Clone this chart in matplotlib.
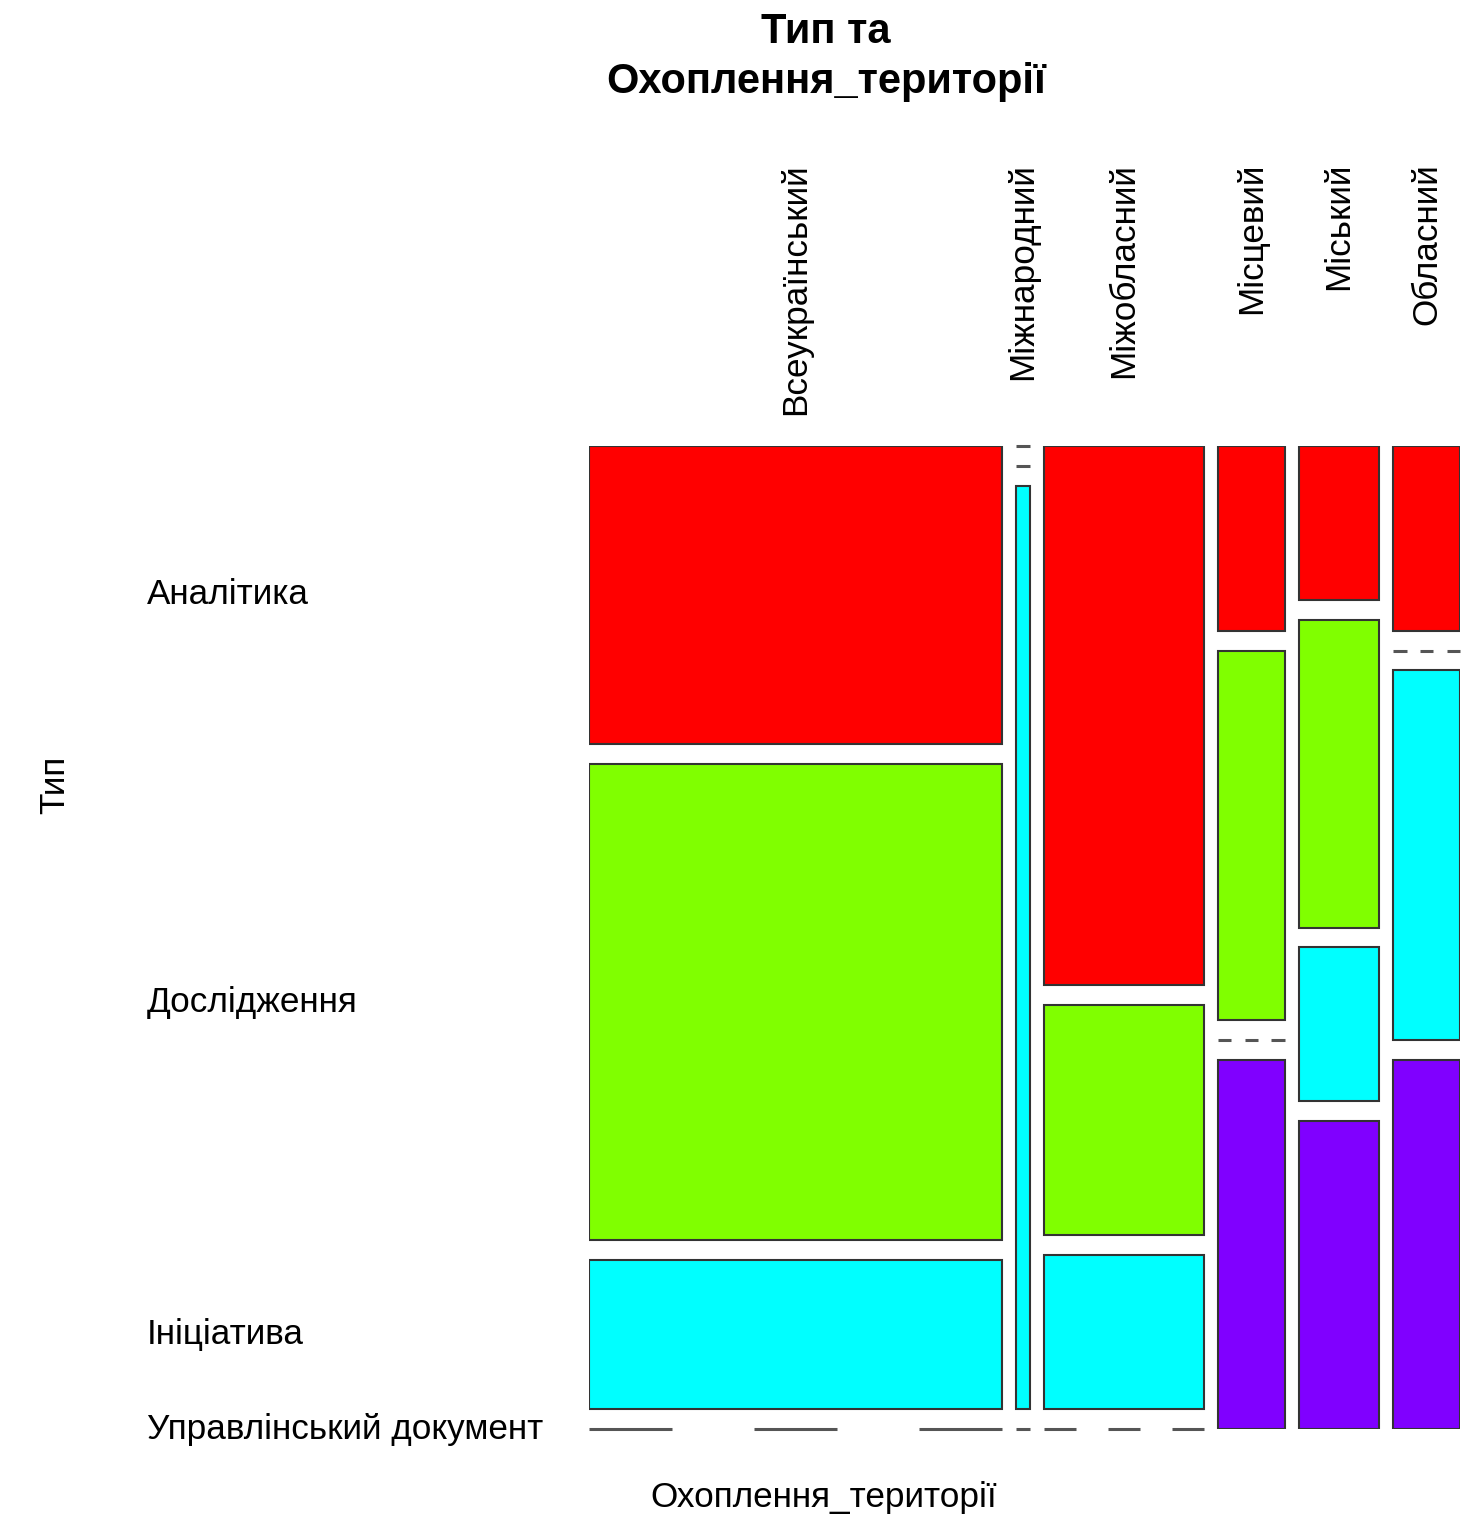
import numpy as np
import matplotlib
matplotlib.use('Agg')
import matplotlib.pyplot as plt
from matplotlib.transforms import blended_transform_factory

plt.rcParams['font.family'] = ['Liberation Sans', 'DejaVu Sans']

# Data (counts read from the mosaic)
columns = ['Всеукраїнський', 'Міжнародний', 'Міжобласний', 'Місцевий', 'Міський', 'Обласний']
rows = ['Аналітика', 'Дослідження', 'Ініціатива', 'Управлінський документ']
analityka = [10, 0, 7, 1, 1, 1]
doslidzhennia = [16, 0, 3, 2, 2, 0]
initsiatyva = [5, 1, 2, 0, 1, 2]
upr_dokument = [0, 0, 0, 2, 2, 2]
colors = ['#FF0000', '#80FF00', '#00FFFF', '#8000FF']

counts = np.array([analityka, doslidzhennia, initsiatyva, upr_dokument])

W, H = 1475, 1515
fig = plt.figure(figsize=(W / 100, H / 100), dpi=100)
ax = fig.add_axes([589 / W, 1 - 1429 / H, 871 / W, 983 / H])
ax.set_xlim(0, 1)
ax.set_ylim(1, 0)
ax.axis('off')

gap_x = 14.4 / 871
gap_y = 19.8 / 983
col_tot = counts.sum(axis=0)
n_total = col_tot.sum()
widths = (1 - gap_x * (len(columns) - 1)) * col_tot / n_total

# Drawing the mosaic
x0 = 0.0
col_centers = []
row_centers = []
for j in range(len(columns)):
    w = widths[j]
    y0 = 0.0
    for i in range(len(rows)):
        h = (1 - gap_y * (len(rows) - 1)) * counts[i, j] / col_tot[j]
        if counts[i, j] > 0:
            ax.bar(x0, h, width=w, bottom=y0, align='edge', color=colors[i],
                   edgecolor='#333333', linewidth=1.5)
        else:
            # empty cell -> dashed line
            if w > 0.03:
                starts = x0 + np.array([0, 2, 4]) * w / 5
                ax.hlines([y0] * 3, starts, starts + w / 5, color='#555555',
                          linewidth=2.2, clip_on=False)
            else:
                ax.hlines(y0, x0, x0 + w, color='#555555', linewidth=2.2, clip_on=False)
        if j == 0:
            row_centers.append(y0 + h / 2)
        y0 += h + gap_y
    col_centers.append(x0 + w / 2)
    x0 += w + gap_x

# Labels
tr_rows = blended_transform_factory(fig.transFigure, ax.transData)
for name, yc in zip(rows, row_centers):
    ax.text(147 / W, yc, name, transform=tr_rows, ha='left', va='center', fontsize=25.3)

tr_cols = blended_transform_factory(ax.transData, fig.transFigure)
for name, xc in zip(columns, col_centers):
    ax.text(xc, 1 - 163 / H, name, transform=tr_cols, rotation=90,
            ha='center', va='top', fontsize=25.3)

fig.text(826 / W, 1 - 32 / H, 'Тип та', ha='center', va='center',
         fontsize=30, fontweight='bold')
fig.text(826 / W, 1 - 82 / H, 'Охоплення_території', ha='center', va='center',
         fontsize=30, fontweight='bold')
fig.text(824 / W, 1 - 1497 / H, 'Охоплення_території', ha='center', va='center', fontsize=25.3)
fig.text(55 / W, 1 - 785 / H, 'Тип', ha='center', va='center', rotation=90, fontsize=25.3)

plt.savefig('out.png', dpi=100)
